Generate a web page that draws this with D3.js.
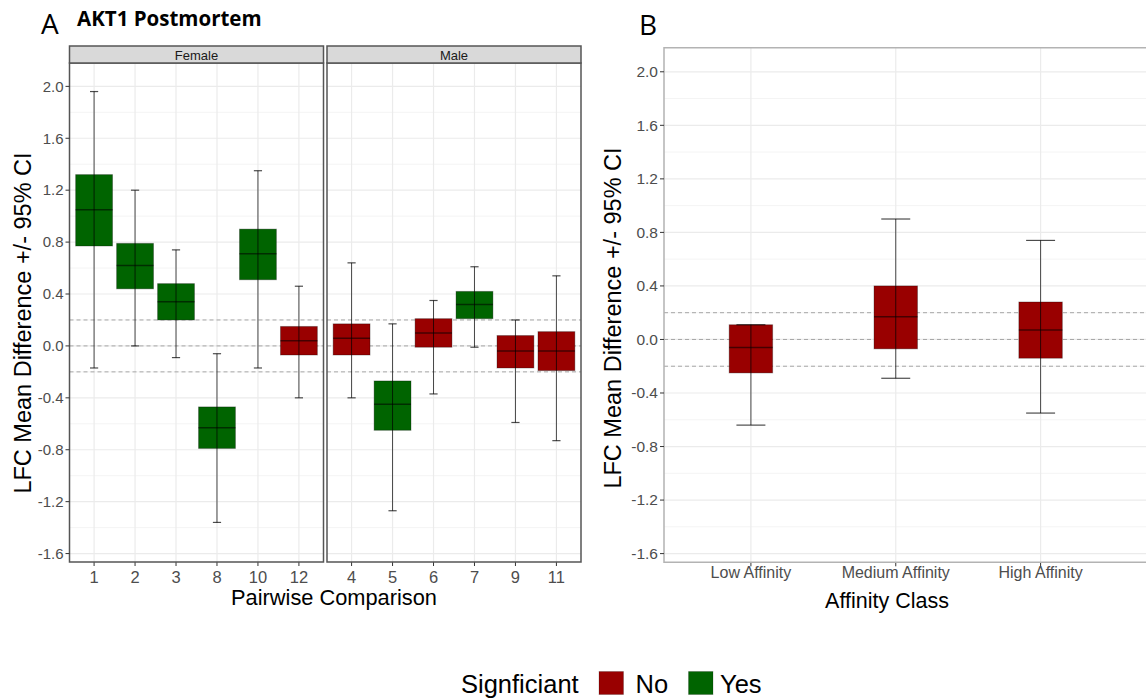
<!DOCTYPE html>
<html lang="en">
<head>
<meta charset="UTF-8">
<title>AKT1 Postmortem</title>
<style>
  body { margin: 0; background: #fff; }
  svg text { font-family: "Liberation Sans", Arial, sans-serif; }
  .tick-label { fill: #4d4d4d; }
  svg text.heading { font-family: "Open Sans", "Noto Sans", sans-serif; }
</style>
</head>
<body>
<svg id="chart" width="1146" height="700"></svg>
<script src="https://d3js.org/d3.v7.min.js"></script>
<script>
// Panel A: pairwise comparisons, faceted by sex
const femaleCats = ["1", "2", "3", "8", "10", "12"];
const maleCats = ["4", "5", "6", "7", "9", "11"];
const compSex = ["Female", "Female", "Female", "Female", "Female", "Female",
                 "Male", "Male", "Male", "Male", "Male", "Male"];
const compLabel = ["1", "2", "3", "8", "10", "12", "4", "5", "6", "7", "9", "11"];
const compMedian = [1.05, 0.62, 0.34, -0.63, 0.71, 0.04, 0.06, -0.45, 0.10, 0.32, -0.04, -0.04];
const compBoxLow = [0.77, 0.44, 0.20, -0.79, 0.51, -0.07, -0.07, -0.65, -0.01, 0.21, -0.17, -0.19];
const compBoxHigh = [1.32, 0.79, 0.48, -0.47, 0.90, 0.15, 0.17, -0.27, 0.21, 0.42, 0.08, 0.11];
const compLow = [-0.17, 0.00, -0.09, -1.36, -0.17, -0.40, -0.40, -1.27, -0.37, -0.01, -0.59, -0.73];
const compHigh = [1.96, 1.20, 0.74, -0.06, 1.35, 0.46, 0.64, 0.17, 0.35, 0.61, 0.20, 0.54];
const compSig = ["Yes", "Yes", "Yes", "Yes", "Yes", "No", "No", "Yes", "No", "Yes", "No", "No"];

// Panel B: affinity classes
const affCats = ["Low Affinity", "Medium Affinity", "High Affinity"];
const affMedian = [-0.06, 0.17, 0.07];
const affBoxLow = [-0.25, -0.07, -0.14];
const affBoxHigh = [0.11, 0.40, 0.28];
const affLow = [-0.64, -0.29, -0.55];
const affHigh = [0.11, 0.90, 0.74];
const affSig = ["No", "No", "No"];

const yTicks = [-1.6, -1.2, -0.8, -0.4, 0.0, 0.4, 0.8, 1.2, 1.6, 2.0];
const yMinor = [-1.4, -1.0, -0.6, -0.2, 0.2, 0.6, 1.0, 1.4, 1.8];
const refLines = [-0.2, 0.0, 0.2];
const legendKeys = ["No", "Yes"];

const colour = d3.scaleOrdinal().domain(["No", "Yes"]).range(["#990000", "#006400"]);

const svg = d3.select("#chart");
const yDomain = [-1.665, 2.18];

// draws one facet / panel; opts.xEnd lets the panel run past the last category (open right side)
function drawPanel(g, x, y, rows, opts) {
  const x0 = x.range()[0];
  const x1 = opts.xEnd || x.range()[1];
  const [yb, yt] = y.range();
  const step = x.step();

  g.append("rect").attr("x", x0).attr("y", yt).attr("width", x1 - x0).attr("height", yb - yt)
    .attr("fill", "#fff");

  // grid
  g.selectAll(".minor").data(yMinor).join("line")
    .attr("x1", x0).attr("x2", x1).attr("y1", d => y(d)).attr("y2", d => y(d))
    .attr("stroke", "#f4f4f4").attr("stroke-width", 1);
  g.selectAll(".major").data(yTicks).join("line")
    .attr("x1", x0).attr("x2", x1).attr("y1", d => y(d)).attr("y2", d => y(d))
    .attr("stroke", "#ebebeb").attr("stroke-width", 1.2);
  g.selectAll(".vgrid").data(x.domain()).join("line")
    .attr("x1", d => x(d)).attr("x2", d => x(d)).attr("y1", yt).attr("y2", yb)
    .attr("stroke", "#ebebeb").attr("stroke-width", 1.2);

  // reference lines
  g.selectAll(".ref").data(refLines).join("line")
    .attr("x1", x0).attr("x2", x1).attr("y1", d => y(d)).attr("y2", d => y(d))
    .attr("stroke", "#a6a6a6").attr("stroke-width", 1).attr("stroke-dasharray", "4,3");

  const bw = step * opts.boxFrac;
  const cw = step * 0.2;

  g.selectAll(".box").data(rows).join("rect")
    .attr("x", d => x(d.cat) - bw / 2).attr("width", bw)
    .attr("y", d => y(d.q3)).attr("height", d => y(d.q1) - y(d.q3))
    .attr("fill", d => colour(d.sig))
    .attr("stroke", "rgba(0,0,0,0.3)").attr("stroke-width", 1);

  g.selectAll(".med").data(rows).join("line")
    .attr("x1", d => x(d.cat) - bw / 2).attr("x2", d => x(d.cat) + bw / 2)
    .attr("y1", d => y(d.med)).attr("y2", d => y(d.med))
    .attr("stroke", "rgba(0,0,0,0.55)").attr("stroke-width", 1.5);

  g.selectAll(".whisk").data(rows).join("line")
    .attr("x1", d => x(d.cat)).attr("x2", d => x(d.cat))
    .attr("y1", d => y(d.lo)).attr("y2", d => y(d.hi))
    .attr("stroke", "rgba(0,0,0,0.7)").attr("stroke-width", 1);
  ["lo", "hi"].forEach(k => {
    g.selectAll(".cap-" + k).data(rows).join("line")
      .attr("x1", d => x(d.cat) - cw / 2).attr("x2", d => x(d.cat) + cw / 2)
      .attr("y1", d => y(d[k])).attr("y2", d => y(d[k]))
      .attr("stroke", "rgba(0,0,0,0.7)").attr("stroke-width", 1.2);
  });

  // x axis ticks + labels
  g.selectAll(".xt").data(x.domain()).join("line")
    .attr("x1", d => x(d)).attr("x2", d => x(d)).attr("y1", yb).attr("y2", yb + 4)
    .attr("stroke", "#333");
  g.selectAll(".xl").data(x.domain()).join("text")
    .attr("class", "tick-label")
    .attr("x", d => x(d)).attr("y", yb + opts.xLabOff)
    .attr("text-anchor", "middle").attr("font-size", opts.xLabSize)
    .text(d => d);

  if (opts.xEnd) {
    g.append("path")
      .attr("d", `M${x1},${yt}H${x0}V${yb}H${x1}`)
      .attr("fill", "none").attr("stroke", opts.border).attr("stroke-width", opts.borderW);
  } else {
    g.append("rect").attr("x", x0).attr("y", yt).attr("width", x1 - x0).attr("height", yb - yt)
      .attr("fill", "none").attr("stroke", opts.border).attr("stroke-width", opts.borderW);
  }
}

function yAxis(g, y, xLeft, size) {
  g.selectAll(".yt").data(yTicks).join("line")
    .attr("x1", xLeft - 4).attr("x2", xLeft).attr("y1", d => y(d)).attr("y2", d => y(d))
    .attr("stroke", "#333");
  g.selectAll(".yl").data(yTicks).join("text")
    .attr("class", "tick-label")
    .attr("x", xLeft - 6).attr("y", d => y(d)).attr("dy", "0.35em")
    .attr("text-anchor", "end").attr("font-size", size)
    .text(d => d3.format(".1f")(d).replace("−", "-"));
}

function rowsFrom(cats, med, q1, q3, lo, hi, sig) {
  return cats.map((c, i) => ({ cat: c, med: med[i], q1: q1[i], q3: q3[i], lo: lo[i], hi: hi[i], sig: sig[i] }));
}

// ---------- Panel A ----------
const yA = d3.scaleLinear().domain(yDomain).range([562, 63]);
const facets = [
  { name: "Female", cats: femaleCats, range: [69.5, 323.5] },
  { name: "Male", cats: maleCats, range: [327, 581] }
];
const gA = svg.append("g");
const allRows = rowsFrom(compLabel, compMedian, compBoxLow, compBoxHigh, compLow, compHigh, compSig)
  .map((d, i) => Object.assign(d, { sex: compSex[i] }));

facets.forEach(f => {
  const x = d3.scalePoint().domain(f.cats).range(f.range).padding(0.6);
  const g = gA.append("g");
  drawPanel(g, x, yA, allRows.filter(d => d.sex === f.name),
    { boxFrac: 0.9, xLabSize: 16.5, xLabOff: 20.5, border: "#555", borderW: 1.5 });
  // strip
  g.append("rect").attr("x", f.range[0]).attr("y", 46).attr("width", f.range[1] - f.range[0]).attr("height", 17)
    .attr("fill", "#d9d9d9").attr("stroke", "#555").attr("stroke-width", 1.5);
  g.append("text").attr("x", (f.range[0] + f.range[1]) / 2).attr("y", 55).attr("dy", "0.35em")
    .attr("text-anchor", "middle").attr("font-size", 13).attr("fill", "#1a1a1a").text(f.name);
});
yAxis(gA, yA, 69.5, 15);

gA.append("text").attr("x", 334).attr("y", 605).attr("text-anchor", "middle")
  .attr("font-size", 21.8).attr("fill", "#000").text("Pairwise Comparison");
gA.append("text").attr("transform", "translate(31,323) rotate(-90)").attr("text-anchor", "middle")
  .attr("font-size", 23.5).attr("fill", "#000").text("LFC Mean Difference +/- 95% CI");
gA.append("text").attr("class", "heading").attr("x", 41).attr("y", 34)
  .attr("font-size", 28).attr("fill", "#000").text("A");
gA.append("text").attr("class", "heading").attr("x", 77).attr("y", 25.5)
  .attr("font-size", 20.5).attr("font-weight", "bold").attr("fill", "#000").text("AKT1 Postmortem");

// ---------- Panel B ----------
const yB = d3.scaleLinear().domain(yDomain).range([562.3, 47.7]);
const xB = d3.scalePoint().domain(affCats).range([664, 1127.5]).padding(0.6);
const gB = svg.append("g");
drawPanel(gB, xB, yB, rowsFrom(affCats, affMedian, affBoxLow, affBoxHigh, affLow, affHigh, affSig),
  { boxFrac: 0.3, xLabSize: 16, xLabOff: 16, border: "#b3b3b3", borderW: 1.5, xEnd: 1146 });
yAxis(gB, yB, 664, 15.5);
gB.append("text").attr("x", 887).attr("y", 608).attr("text-anchor", "middle")
  .attr("font-size", 21.5).attr("fill", "#000").text("Affinity Class");
gB.append("text").attr("transform", "translate(621,318) rotate(-90)").attr("text-anchor", "middle")
  .attr("font-size", 23.5).attr("fill", "#000").text("LFC Mean Difference +/- 95% CI");
gB.append("text").attr("class", "heading").attr("x", 639).attr("y", 35)
  .attr("font-size", 28).attr("fill", "#000").text("B");

// ---------- Legend ----------
const leg = svg.append("g");
leg.append("text").attr("x", 461).attr("y", 692.5).attr("font-size", 25.5).attr("fill", "#000").text("Signficiant");
const keyX = d3.scalePoint().domain(legendKeys).range([599, 688.5]);
const keyTextGap = { No: 36.5, Yes: 31.5 };
legendKeys.forEach(k => {
  leg.append("rect").attr("x", keyX(k)).attr("y", 671.5).attr("width", 24.5).attr("height", 23)
    .attr("fill", colour(k)).attr("stroke", "rgba(0,0,0,0.2)");
  leg.append("text").attr("x", keyX(k) + keyTextGap[k]).attr("y", 692.5).attr("font-size", 25.5)
    .attr("fill", "#000").text(k);
});
</script>
</body>
</html>
